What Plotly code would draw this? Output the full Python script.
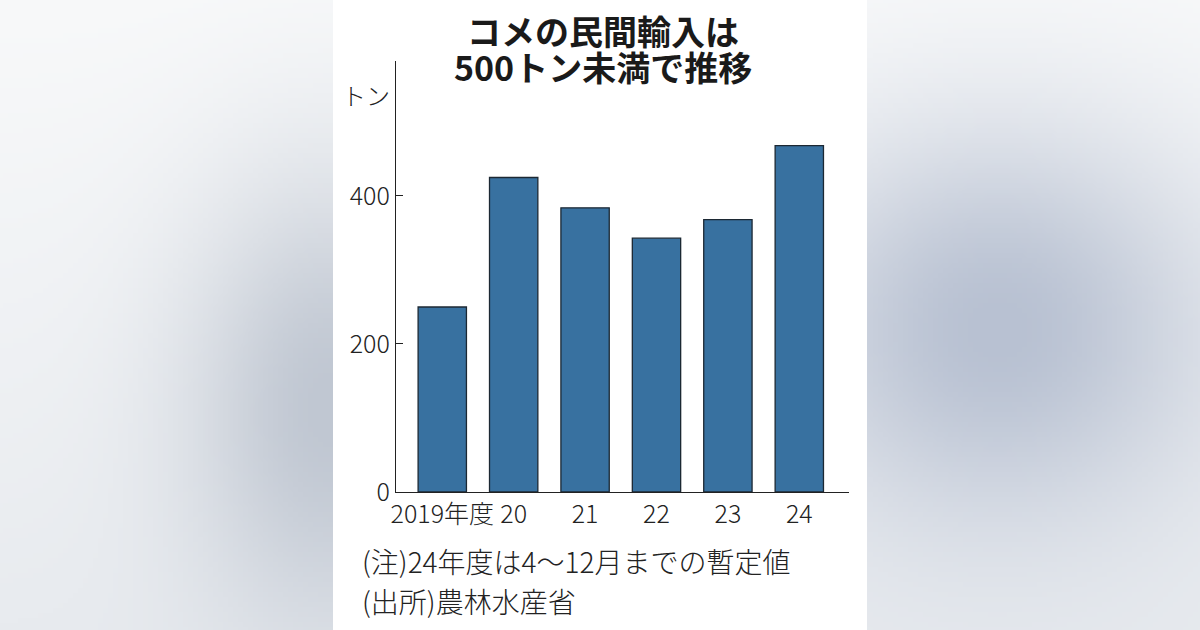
import base64
import struct
import zlib

import numpy as np
import plotly.graph_objects as go

# データ（トン）
years = ["2019年度", "20", "21", "22", "23", "24"]
imports = [250, 425, 384, 343, 368, 468]
y_ticks = [0, 200, 400]

title_lines = ["コメの民間輸入は", "500トン未満で推移"]
unit_label = "トン"
notes = ["(注)24年度は4～12月までの暫定値", "(出所)農林水産省"]

W, H = 1200, 630
JP_FONT = "Noto Sans CJK JP, sans-serif"
INK = "#222222"


def px(x):
    return x / W


def py(y):
    return 1 - y / H


# ぼかした背景（装飾のみ）
def background_uri():
    w, h = 240, 126
    xs = np.linspace(0, W, w)[None, :]
    ys = np.linspace(0, H, h)[:, None]
    top = np.array([248, 249, 250])
    bottom = np.array([232, 235, 239])
    t = (ys / H)[..., None]
    img = top * (1 - t) + bottom * t
    img = np.broadcast_to(img, (h, w, 3)).copy()
    blobs = [
        ((330, 410), (100, 160), (192, 199, 210)),
        ((1000, 330), (150, 140), (184, 193, 210)),
    ]
    for (cx, cy), (sx, sy), col in blobs:
        wgt = np.exp(-((xs - cx) ** 2 / (2 * sx ** 2) + (ys - cy) ** 2 / (2 * sy ** 2)))[..., None]
        img = img * (1 - wgt) + np.array(col) * wgt
    arr = np.clip(img, 0, 255).astype(np.uint8)
    raw = b"".join(b"\x00" + arr[i].tobytes() for i in range(h))

    def chunk(tag, data):
        c = struct.pack(">I", len(data)) + tag + data
        return c + struct.pack(">I", zlib.crc32(tag + data) & 0xFFFFFFFF)

    png = (b"\x89PNG\r\n\x1a\n"
           + chunk(b"IHDR", struct.pack(">IIBBBBB", w, h, 8, 2, 0, 0, 0))
           + chunk(b"IDAT", zlib.compress(raw))
           + chunk(b"IEND", b""))
    return "data:image/png;base64," + base64.b64encode(png).decode()


fig = go.Figure()

fig.add_trace(go.Bar(
    x=years,
    y=imports,
    marker=dict(color="#3871a0", line=dict(color="#1c2833", width=1.3)),
    hoverinfo="skip",
))

fig.update_layout(
    width=W,
    height=H,
    margin=dict(l=0, r=0, t=0, b=0, autoexpand=False),
    paper_bgcolor="#f1f3f6",
    plot_bgcolor="rgba(0,0,0,0)",
    showlegend=False,
    bargap=0.323,
    images=[dict(
        source=background_uri(), xref="paper", yref="paper",
        x=0, y=1, sizex=1, sizey=1, sizing="stretch",
        xanchor="left", yanchor="top", layer="below",
    )],
    shapes=[dict(
        type="rect", xref="paper", yref="paper",
        x0=px(333), x1=px(867), y0=0, y1=1,
        fillcolor="white", line=dict(width=0), layer="below",
    )],
)

fig.update_xaxes(
    domain=[px(396), px(849)],
    range=[-0.648, 5.696],
    automargin=False,
    showline=True, linecolor=INK, linewidth=1.3,
    ticks="", showgrid=False, zeroline=False, tickangle=0,
    tickfont=dict(family=JP_FONT, size=25, color=INK, weight=300),
)

fig.update_yaxes(
    domain=[py(492), py(61)],
    range=[0, 582.4],
    automargin=False,
    tickvals=y_ticks,
    showline=True, linecolor=INK, linewidth=1.3,
    ticks="inside", ticklen=7, tickcolor=INK, tickwidth=1.3,
    showgrid=False, zeroline=False,
    tickfont=dict(family=JP_FONT, size=25, color=INK, weight=300),
)

# タイトル（2行）
for text, yy in zip(title_lines, [30, 67]):
    fig.add_annotation(
        text=text, xref="paper", yref="paper", x=px(603), y=py(yy),
        xanchor="center", yanchor="middle", showarrow=False,
        font=dict(family=JP_FONT, size=34, color="#1a1a1a", weight="bold"),
    )

fig.add_annotation(
    text=unit_label, xref="paper", yref="paper", x=px(340), y=py(94),
    xanchor="left", yanchor="middle", showarrow=False,
    font=dict(family=JP_FONT, size=24, color=INK, weight=300),
)

for text, yy in zip(notes, [561, 601]):
    fig.add_annotation(
        text=text, xref="paper", yref="paper", x=px(360), y=py(yy),
        xanchor="left", yanchor="middle", showarrow=False,
        font=dict(family=JP_FONT, size=28, color=INK, weight=300),
    )

fig.write_html(
    "out.html",
    config={"displayModeBar": False},
    post_script="document.body.style.margin='0';document.body.style.overflow='hidden';",
)
